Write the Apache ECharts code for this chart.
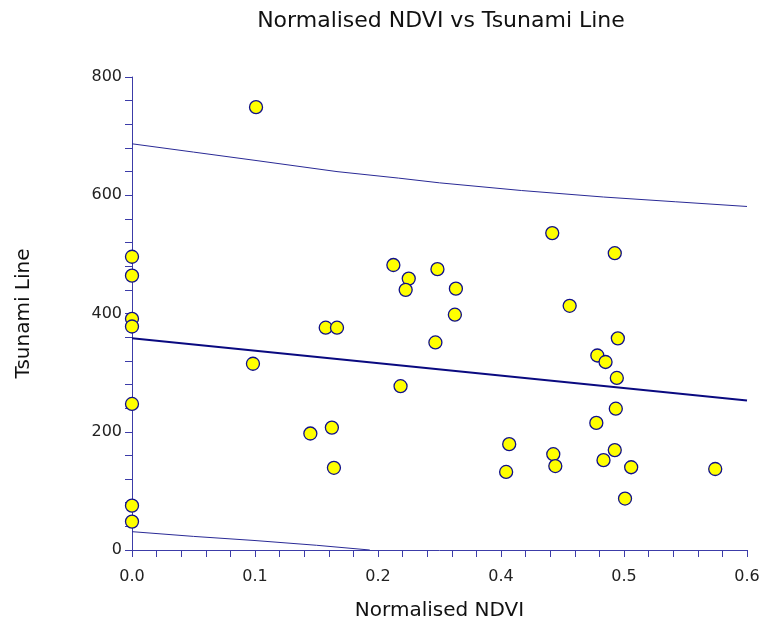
<!DOCTYPE html>
<html>
<head>
<meta charset="utf-8">
<script src="https://cdn.jsdelivr.net/npm/echarts@6/dist/echarts.min.js"></script>
<style>html,body{margin:0;padding:0;background:#fff;}#c{width:763px;height:627px;}</style>
</head>
<body>
<div id="c"></div>
<script>
const ndvi = [0.121,0,0,0,0,0,0,0,0.118,0.174,0.189,0.200,0.195,0.197,0.255,0.270,0.267,0.262,0.298,0.316,0.315,0.296,0.410,0.427,0.471,0.474,0.454,0.462,0.473,0.472,0.453,0.368,0.365,0.411,0.413,0.471,0.460,0.487,0.481,0.569];
const tsunami = [749,496,464,391,378,247,75,48,315,197,376,376,207,139,482,459,440,277,475,442,398,351,536,413,502,358,329,318,291,239,215,179,132,162,142,169,152,140,87,137];
const fitX = [0, 0.6];
const fitY = [358, 253];
const upperX = [0, 0.06, 0.12, 0.2, 0.26, 0.3, 0.38, 0.46, 0.53, 0.6];
const upperY = [687, 673, 659, 640, 629, 621, 608, 597, 589, 581];
const lowerX = [0, 0.06, 0.12, 0.18, 0.232];
const lowerY = [31, 23, 16, 8, 0];
const xTicks = {min: 0, max: 0.6, interval: 0.12};
const yTicks = {min: 0, max: 800, interval: 200};

const zip = (a, b) => a.map((v, i) => [v, b[i]]);
const font = 'DejaVu Sans, sans-serif';
const axisCol = '#3c3ca8';
const chart = echarts.init(document.getElementById('c'), null, {renderer: 'canvas'});
chart.setOption({
  animation: false,
  backgroundColor: '#fff',
  title: {
    text: 'Normalised NDVI vs Tsunami Line',
    left: 436, top: 5, textAlign: 'center',
    textStyle: {fontFamily: font, fontSize: 22, fontWeight: 'normal', color: '#111'}
  },
  grid: {left: 132, right: 16, top: 77, bottom: 77, containLabel: false},
  xAxis: {
    type: 'value', min: xTicks.min, max: xTicks.max, interval: xTicks.interval,
    name: 'Normalised NDVI', nameLocation: 'middle', nameGap: 51,
    nameTextStyle: {fontFamily: font, fontSize: 20, color: '#111'},
    axisLine: {show: true, onZero: false, lineStyle: {color: axisCol, width: 1}},
    axisTick: {show: true, inside: false, length: 7, lineStyle: {color: axisCol}},
    minorTick: {show: true, splitNumber: 5, length: 7, lineStyle: {color: axisCol}},
    axisLabel: {fontFamily: font, fontSize: 16, color: '#222', margin: 19, formatter: v => v.toFixed(1)},
    splitLine: {show: false}
  },
  yAxis: {
    type: 'value', min: yTicks.min, max: yTicks.max, interval: yTicks.interval,
    name: 'Tsunami Line', nameLocation: 'middle', nameGap: 98,
    nameTextStyle: {fontFamily: font, fontSize: 20, color: '#111'},
    axisLine: {show: true, onZero: false, lineStyle: {color: axisCol, width: 1}},
    axisTick: {show: true, inside: false, length: 7, lineStyle: {color: axisCol}},
    minorTick: {show: true, splitNumber: 5, length: 7, lineStyle: {color: axisCol}},
    axisLabel: {fontFamily: font, fontSize: 16, color: '#222', margin: 10},
    splitLine: {show: false}
  },
  series: [
    {type: 'line', data: zip(upperX, upperY), showSymbol: false, symbol: 'none', clip: true,
     lineStyle: {color: '#2a2a96', width: 1}},
    {type: 'line', data: zip(lowerX, lowerY), showSymbol: false, symbol: 'none', clip: true,
     lineStyle: {color: '#2a2a96', width: 1}},
    {type: 'line', data: zip(fitX, fitY), showSymbol: false, symbol: 'none', clip: true,
     lineStyle: {color: '#0a0a80', width: 2}},
    {type: 'scatter', data: zip(ndvi, tsunami), symbol: 'circle', symbolSize: 13,
     itemStyle: {color: '#ffff00', borderColor: '#10108a', borderWidth: 1.3, opacity: 1}}
  ]
});
</script>
</body>
</html>
